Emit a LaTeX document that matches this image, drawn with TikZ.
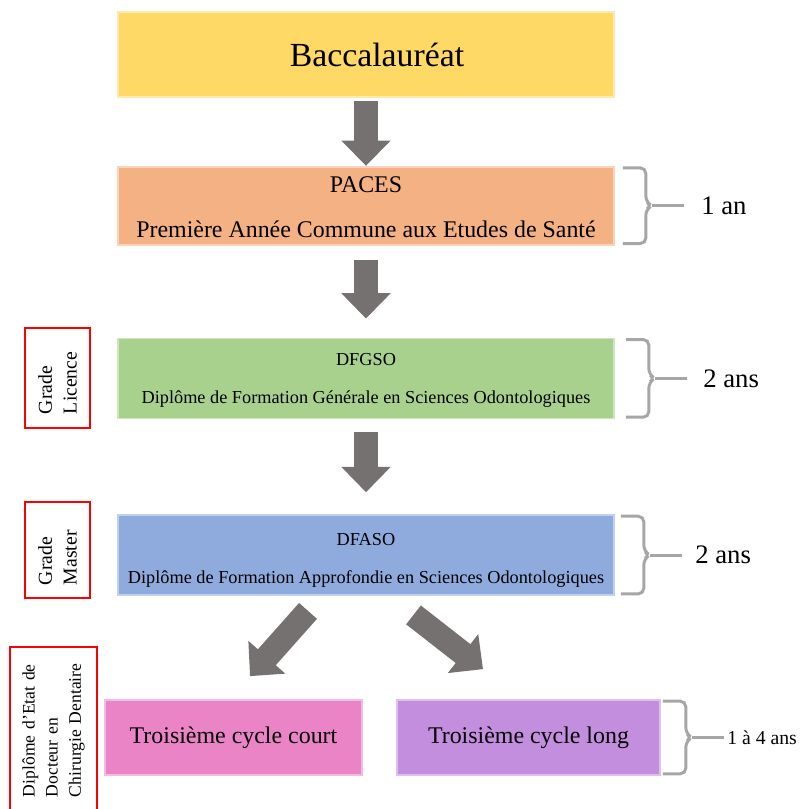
\documentclass[tikz,border=0pt]{standalone}
\usepackage{fontspec}
\setmainfont{Liberation Serif}
\usetikzlibrary{arrows.meta, positioning, calc}

\newlength{\unitpx}
\setlength{\unitpx}{0.025cm}

\definecolor{bacjaune}{HTML}{FFD966}
\definecolor{pacesorange}{HTML}{F4B183}
\definecolor{dfgsovert}{HTML}{A9D18E}
\definecolor{dfasobleu}{HTML}{8FAADC}
\definecolor{courtrose}{HTML}{EA84C6}
\definecolor{longviolet}{HTML}{C28EDD}
\definecolor{flechegris}{HTML}{767171}
\definecolor{accgris}{HTML}{A6A6A6}

% brace on the right of a box: node, label name, text, font size, gap, text gap
\newcommand{\dureebrace}[6]{%
  \draw[accolade] ($(#1.north east)+(#5,2)$) -- ++(23,0)
    -- ($(#1.east)+(#5+23,-4)$) -- ($(#1.east)+(#5+29,0)$)
    -- ($(#1.east)+(#5+23,4)$) -- ($(#1.south east)+(#5+23,-2)$) -- ++(-23,0);
  \draw[accolade] ($(#1.east)+(#5+29,0)$) -- ++(32,0)
    node[right=#6\unitpx, inner sep=0pt, font=\fontsize{#4}{#4}\selectfont] (#2) {#3};
}

\begin{document}
\begin{tikzpicture}[
  x=\unitpx, y=-\unitpx,
  box/.style={fill=#1, draw=#1!55, line width=1.2pt, minimum width=496\unitpx, align=center, inner sep=0pt},
  bigarrow/.style={draw=flechegris, line width=17pt, -{Triangle[width=34pt, length=18pt]}},
  accolade/.style={draw=accgris, line width=2.1pt, rounded corners=4pt},
  redlabel/.style={draw=red, line width=1.8pt, rotate=90, align=left, inner ysep=0pt}
]

\fill[white] (0,0) rectangle (803,809);
\useasboundingbox (0,0) rectangle (803,809);
\clip (0,0) rectangle (803,809);

% Main column
\node[box=bacjaune, minimum height=85\unitpx, font=\fontsize{24}{28}\selectfont] (bac) at (366,54.5) {\hspace*{22\unitpx}Baccalauréat};
\node[box=pacesorange, minimum height=78\unitpx, font=\fontsize{17}{32}\selectfont, below=68\unitpx of bac] (paces)
  {\rule{0pt}{14pt}PACES\\Première Année Commune aux Etudes de Santé};
\node[box=dfgsovert, minimum height=80\unitpx, font=\fontsize{13}{27}\selectfont, below=92\unitpx of paces] (dfgso)
  {\rule{0pt}{11.4pt}DFGSO\\Diplôme de Formation Générale en Sciences Odontologiques};
\node[box=dfasobleu, minimum height=80\unitpx, font=\fontsize{13}{27}\selectfont, below=95\unitpx of dfgso] (dfaso)
  {\rule{0pt}{15.6pt}DFASO\\Diplôme de Formation Approfondie en Sciences Odontologiques};

% Third cycle
\node[box=courtrose, minimum width=257\unitpx, minimum height=75\unitpx, font=\fontsize{17}{20}\selectfont] (court) at (233.5,737.5) {Troisième cycle court};
\node[box=longviolet, minimum width=263\unitpx, minimum height=75\unitpx, font=\fontsize{17}{20}\selectfont] (long) at (528.5,737.5) {Troisième cycle long};

% Grades
\node[redlabel, minimum height=65\unitpx, text width=72\unitpx, inner xsep=14\unitpx, font=\fontsize{14}{17.5}\selectfont] (licence) at (57.5,378) {Grade\\Licence};
\node[redlabel, minimum height=65\unitpx, text width=70\unitpx, inner xsep=13\unitpx, font=\fontsize{14}{17.5}\selectfont] (master) at (57.5,550) {Grade\\Master};
\node[redlabel, minimum height=87\unitpx, text width=134\unitpx, inner xsep=16\unitpx, font=\fontsize{12.5}{16.5}\selectfont] (docteur) at (53.5,730) {Diplôme d'Etat de\\Docteur en\\Chirurgie Dentaire};

% Arrows
\draw[bigarrow, shorten <=3\unitpx] (bac) -- (paces);
\draw[bigarrow, shorten <=14\unitpx, shorten >=19\unitpx] (paces) -- (dfgso);
\draw[bigarrow, shorten <=13\unitpx, shorten >=22\unitpx] (dfgso) -- (dfaso);
\coordinate (depart gauche) at ($(dfaso.south)+(-58,15)$);
\coordinate (arrivee gauche) at ($(court.north)+(16.5,-23)$);
\coordinate (depart droite) at ($(dfaso.south)+(47.5,19)$);
\coordinate (arrivee droite) at ($(long.north)+(-45.5,-30)$);
\draw[bigarrow] (depart gauche) -- (arrivee gauche);
\draw[bigarrow] (depart droite) -- (arrivee droite);

% Durations
\dureebrace{paces}{an1}{1 an}{19}{8}{16}
\dureebrace{dfgso}{ans2}{2 ans}{19}{11}{15}
\dureebrace{dfaso}{ans2b}{2 ans}{19}{6}{12}
\dureebrace{long}{ans14}{1 à 4 ans}{14}{2}{2}

\end{tikzpicture}
\end{document}
